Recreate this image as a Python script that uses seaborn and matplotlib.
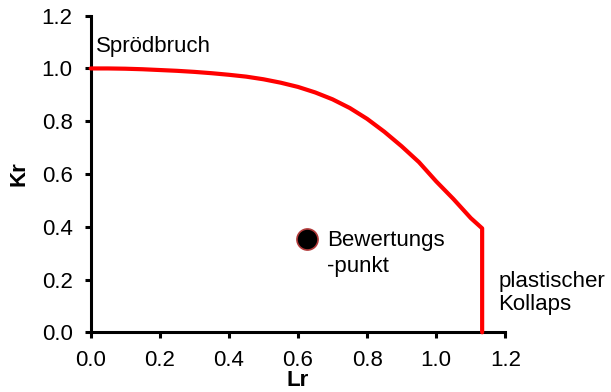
import matplotlib
matplotlib.use("Agg")
import matplotlib.pyplot as plt
import seaborn as sns
import pandas as pd

# Failure assessment curve (Lr, Kr) and the cut-off at Lr,max
lr_curve = [0.00, 0.05, 0.10, 0.15, 0.20, 0.25, 0.30, 0.35, 0.40, 0.45,
            0.50, 0.55, 0.60, 0.65, 0.70, 0.75, 0.80, 0.85, 0.90, 0.95,
            1.00, 1.05, 1.10, 1.133, 1.133]
kr_curve = [1.000, 1.000, 0.999, 0.997, 0.994, 0.991, 0.987, 0.982, 0.976, 0.969,
            0.959, 0.946, 0.930, 0.909, 0.883, 0.850, 0.809, 0.760, 0.705, 0.645,
            0.572, 0.505, 0.433, 0.394, 0.000]

# Assessment point
lr_point = [0.625]
kr_point = [0.355]

x_ticks = [0.0, 0.2, 0.4, 0.6, 0.8, 1.0, 1.2]
y_ticks = [0.0, 0.2, 0.4, 0.6, 0.8, 1.0, 1.2]

sns.set_style("ticks")
plt.rcParams["font.family"] = ["Liberation Sans", "DejaVu Sans"]
plt.rcParams["text.color"] = "black"
plt.rcParams["axes.labelcolor"] = "black"

fig = plt.figure(figsize=(6.11, 3.92), dpi=100)
ax = fig.add_axes([0.1484, 0.1523, 0.6786, 0.8077])

curve = pd.DataFrame({"Lr": lr_curve, "Kr": kr_curve})
sns.lineplot(data=curve, x="Lr", y="Kr", sort=False, estimator=None,
             color="#ff0000", linewidth=3.0, ax=ax, clip_on=False, zorder=3)
for ln in ax.lines:
    ln.set_solid_joinstyle("round")

pt = pd.DataFrame({"Lr": lr_point, "Kr": kr_point})
sns.scatterplot(data=pt, x="Lr", y="Kr", s=230, color="black",
                edgecolor="#b03a3a", linewidth=1.2, ax=ax, zorder=4)

ax.set_xlim(0, 1.2)
ax.set_ylim(0, 1.2)
ax.set_xticks(x_ticks)
ax.set_yticks(y_ticks)
ax.set_xticklabels([f"{v:.1f}" for v in x_ticks])
ax.set_yticklabels([f"{v:.1f}" for v in y_ticks])

for side in ("top", "right"):
    ax.spines[side].set_visible(False)
for side in ("left", "bottom"):
    ax.spines[side].set_linewidth(2.2)
    ax.spines[side].set_color("black")

ax.tick_params(axis="both", direction="out", length=4, width=2.2,
               colors="black", labelcolor="black", labelsize=16, pad=9)

ax.set_xlabel("Lr", fontsize=16, fontweight="bold", labelpad=-1)
ax.set_ylabel("Kr", fontsize=16, fontweight="bold", labelpad=9)

ax.text(0.015, 1.085, "Sprödbruch", fontsize=16, ha="left", va="center")
ax.text(0.685, 0.30, "Bewertungs\n-punkt", fontsize=16, ha="left", va="center",
        linespacing=1.3)
ax.text(1.18, 0.15, "plastischer\nKollaps", fontsize=16, ha="left", va="center",
        linespacing=1.15, clip_on=False)

fig.savefig("out.png", dpi=100, facecolor="white")
